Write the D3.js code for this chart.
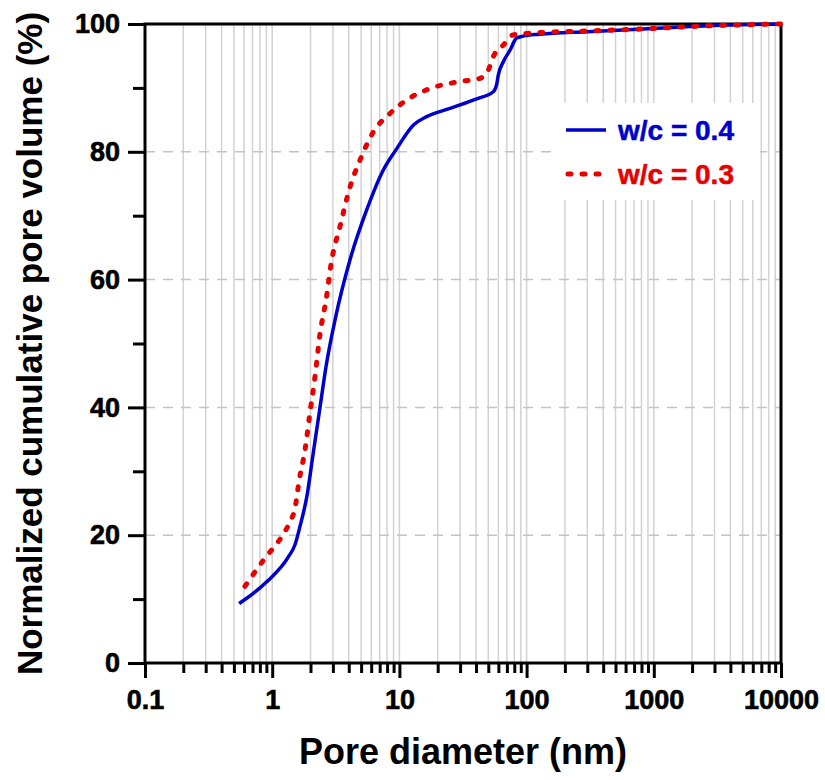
<!DOCTYPE html>
<html>
<head>
<meta charset="utf-8">
<script src="https://cdn.jsdelivr.net/npm/d3@7"></script>
<style>
  body { margin: 0; background: #fff; }
  text { font-family: "Liberation Sans", Arial, sans-serif; font-weight: bold; }
</style>
</head>
<body>
<div id="chart"></div>
<script>
// pore diameter (nm) and cumulative pore volume (%)
var wc04_d = [0.55, 0.906, 1.34, 1.51, 1.65, 1.87, 2.10, 2.38, 2.65, 3.12, 4.09, 5.53, 7.49, 9.53, 12.9, 16.4, 25.0, 40.5, 54.7, 58.1, 59.9, 65.6, 74.0, 83.5, 94, 127, 300, 986, 1928, 10000];
var wc04_v = [9.3, 12.7, 16.6, 18.5, 21.3, 26.0, 32.8, 40.1, 46.4, 53.7, 63.1, 70.9, 77.2, 80.5, 84.2, 85.5, 86.8, 88.3, 89.4, 90.5, 92.0, 94.1, 95.9, 97.8, 98.1, 98.4, 98.8, 99.3, 99.6, 100];

var wc03_d = [0.61, 0.877, 1.19, 1.38, 1.51, 1.63, 1.81, 1.98, 2.17, 2.38, 2.65, 2.94, 3.41, 4.09, 4.90, 6.24, 8.44, 11.4, 17.4, 29.9, 43, 50, 54.7, 65.6, 78.5, 113, 300, 986, 1928, 10000];
var wc03_v = [12.0, 16.4, 19.8, 22.1, 24.2, 28.6, 33.3, 39.1, 44.8, 51.6, 56.8, 63.1, 68.3, 74.5, 78.7, 83.1, 86.0, 88.1, 89.9, 91.0, 91.5, 92.8, 94.9, 96.7, 98.3, 98.6, 98.9, 99.3, 99.6, 100];

var xMajor = [0.1, 1, 10, 100, 1000, 10000];
var xLabels = ["0.1", "1", "10", "100", "1000", "10000"];
var yMajor = [0, 20, 40, 60, 80, 100];
var yMinor = [10, 30, 50, 70, 90];
var yGrid = [20, 40, 60, 80];

var seriesNames = ["w/c = 0.4", "w/c = 0.3"];
var seriesColors = ["#0000cd", "#e60000"];

var W = 825, H = 780;
var pLeft = 145, pRight = 781, pTop = 24, pBottom = 663;

var svg = d3.select("#chart").append("svg").attr("width", W).attr("height", H);

var x = d3.scaleLog().domain([0.1, 10000]).range([pLeft, pRight]);
var y = d3.scaleLinear().domain([0, 100]).range([pBottom, pTop]);

// minor decade values 2..9 x 10^k
var xMinor = [];
for (var k = -1; k < 4; k++) {
    for (var m = 2; m <= 9; m++) {
        xMinor.push(m * Math.pow(10, k));
    }
}

// vertical grid
svg.append("g").selectAll("line")
    .data(xMinor.concat(xMajor.slice(1, -1)))
    .enter().append("line")
    .attr("x1", d => x(d)).attr("x2", d => x(d))
    .attr("y1", pTop).attr("y2", pBottom)
    .attr("stroke", "#d2d2d2").attr("stroke-width", 1.5);

// horizontal dashed grid
svg.append("g").selectAll("line")
    .data(yGrid)
    .enter().append("line")
    .attr("x1", pLeft).attr("x2", pRight)
    .attr("y1", d => y(d)).attr("y2", d => y(d))
    .attr("stroke", "#c4c4c4").attr("stroke-width", 1.5)
    .attr("stroke-dasharray", "10 8");

// legend background covers the grid
svg.append("rect")
    .attr("x", 555).attr("y", 103).attr("width", 205).attr("height", 97)
    .attr("fill", "#fff");

// axes
var xAxis = d3.axisBottom(x).tickValues(xMajor).tickFormat((d, i) => xLabels[i]).tickSize(15).tickPadding(8);
var xAxisMinor = d3.axisBottom(x).tickValues(xMinor).tickFormat("").tickSize(10);
var yAxis = d3.axisLeft(y).tickValues(yMajor).tickFormat(d3.format("d")).tickSize(17).tickPadding(8);
var yAxisMinor = d3.axisLeft(y).tickValues(yMinor).tickFormat("").tickSize(12);

function styleAxis(g) {
    g.select(".domain").remove();
    g.selectAll("line").attr("stroke", "#000").attr("stroke-width", 3);
    g.selectAll("text").attr("fill", "#000").style("font-size", "27px")
        .attr("stroke", "#000").attr("stroke-width", 0.6);
}

svg.append("g").attr("transform", "translate(0," + pBottom + ")").call(xAxis).call(styleAxis)
    .selectAll("text").attr("dy", "0.85em");
svg.append("g").attr("transform", "translate(0," + pBottom + ")").call(xAxisMinor).call(styleAxis);
svg.append("g").attr("transform", "translate(" + pLeft + ",0)").call(yAxis).call(styleAxis);
svg.append("g").attr("transform", "translate(" + pLeft + ",0)").call(yAxisMinor).call(styleAxis);

// frame
svg.append("rect")
    .attr("x", pLeft).attr("y", pTop).attr("width", pRight - pLeft).attr("height", pBottom - pTop)
    .attr("fill", "none").attr("stroke", "#000").attr("stroke-width", 3);

// curves
var line = d3.line()
    .x(d => x(d[0]))
    .y(d => y(d[1]))
    .curve(d3.curveMonotoneX);

var data04 = wc04_d.map((d, i) => [d, wc04_v[i]]);
var data03 = wc03_d.map((d, i) => [d, wc03_v[i]]);

svg.append("path").datum(data04)
    .attr("d", line)
    .attr("fill", "none").attr("stroke", seriesColors[0]).attr("stroke-width", 3.5);

svg.append("path").datum(data03)
    .attr("d", line)
    .attr("fill", "none").attr("stroke", seriesColors[1]).attr("stroke-width", 5)
    .attr("stroke-linecap", "round").attr("stroke-dasharray", "3 11");

// legend
var legend = svg.append("g");
legend.append("line").attr("x1", 566).attr("x2", 606).attr("y1", 130).attr("y2", 130)
    .attr("stroke", seriesColors[0]).attr("stroke-width", 3.5);
legend.append("line").attr("x1", 568).attr("x2", 606).attr("y1", 174).attr("y2", 174)
    .attr("stroke", seriesColors[1]).attr("stroke-width", 5)
    .attr("stroke-linecap", "round").attr("stroke-dasharray", "3 11");
legend.selectAll("text.lg")
    .data(seriesNames)
    .enter().append("text")
    .attr("class", "lg")
    .attr("x", 618).attr("y", (d, i) => 140 + i * 44)
    .attr("fill", (d, i) => seriesColors[i])
    .attr("stroke", (d, i) => seriesColors[i]).attr("stroke-width", 0.5)
    .style("font-size", "28px")
    .text(d => d);

// axis titles
svg.append("text")
    .attr("x", (pLeft + pRight) / 2).attr("y", 764)
    .attr("text-anchor", "middle")
    .style("font-size", "36px")
    .text("Pore diameter (nm)");

svg.append("text")
    .attr("transform", "translate(42," + (pTop + pBottom) / 2 + ") rotate(-90)")
    .attr("text-anchor", "middle")
    .style("font-size", "35px")
    .text("Normalized cumulative pore volume (%)");
</script>
</body>
</html>
